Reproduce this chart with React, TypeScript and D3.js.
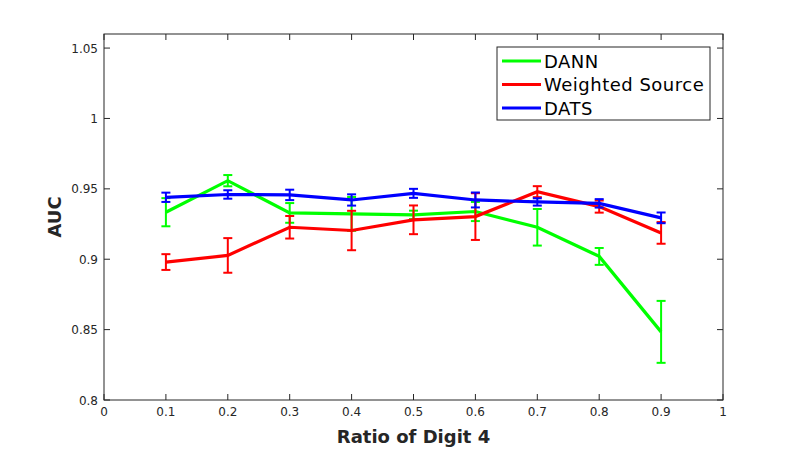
import React, { useEffect, useRef } from 'react';
import * as d3 from 'd3';

// ratios on the x axis
const ratios = [0.1, 0.2, 0.3, 0.4, 0.5, 0.6, 0.7, 0.8, 0.9];

const dannMean = [0.9334, 0.9558, 0.9329, 0.9322, 0.9315, 0.9339, 0.9227, 0.902, 0.8484];
const dannErr = [0.010, 0.004, 0.007, 0.012, 0.003, 0.0068, 0.013, 0.006, 0.022];

const weightedMean = [0.898, 0.9027, 0.9227, 0.9204, 0.928, 0.9303, 0.948, 0.9374, 0.9187];
const weightedErr = [0.0056, 0.0123, 0.008, 0.014, 0.0102, 0.0166, 0.0039, 0.0043, 0.0077];

const datsMean = [0.944, 0.946, 0.9457, 0.9421, 0.9468, 0.9421, 0.9407, 0.9397, 0.9294];
const datsErr = [0.0033, 0.003, 0.0037, 0.004, 0.0032, 0.0053, 0.0026, 0.003, 0.0038];

const seriesNames = ['DANN', 'Weighted Source', 'DATS'];
const seriesColors = ['#00ff00', '#ff0000', '#0000ff'];

const xTicks = [0, 0.1, 0.2, 0.3, 0.4, 0.5, 0.6, 0.7, 0.8, 0.9, 1];
const yTicks = [0.8, 0.85, 0.9, 0.95, 1, 1.05];

const App: React.FC = () => {
  const svgRef = useRef<SVGSVGElement>(null);
  const width = 800;
  const height = 450;

  useEffect(() => {
    if (!svgRef.current) return;
    const svg = d3.select(svgRef.current);
    svg.selectAll('*').remove();

    const left = 104, right = 723, top = 34, bottom = 400;
    const x = d3.scaleLinear().domain([0, 1]).range([left, right]);
    const y = d3.scaleLinear().domain([0.8, 1.06]).range([bottom, top]);
    const font = '"DejaVu Sans", sans-serif';
    const axisColor = '#262626';

    svg.append('rect')
      .attr('x', 0).attr('y', 0).attr('width', width).attr('height', height)
      .attr('fill', '#fff');

    // ticks (inside, on all four sides)
    const tickLen = 6;
    const g = svg.append('g').attr('stroke', axisColor).attr('stroke-width', 1);
    xTicks.forEach(t => {
      g.append('line').attr('x1', x(t)).attr('x2', x(t)).attr('y1', bottom).attr('y2', bottom - tickLen);
      g.append('line').attr('x1', x(t)).attr('x2', x(t)).attr('y1', top).attr('y2', top + tickLen);
    });
    yTicks.forEach(t => {
      g.append('line').attr('x1', left).attr('x2', left + tickLen).attr('y1', y(t)).attr('y2', y(t));
      g.append('line').attr('x1', right).attr('x2', right - tickLen).attr('y1', y(t)).attr('y2', y(t));
    });
    svg.append('rect')
      .attr('x', left).attr('y', top).attr('width', right - left).attr('height', bottom - top)
      .attr('fill', 'none').attr('stroke', axisColor).attr('stroke-width', 1);

    svg.append('g').selectAll('text').data(xTicks).enter().append('text')
      .attr('x', d => x(d)).attr('y', bottom + 16)
      .attr('text-anchor', 'middle')
      .attr('font-family', font).attr('font-size', 12).attr('fill', axisColor)
      .text(d => String(d));

    svg.append('g').selectAll('text').data(yTicks).enter().append('text')
      .attr('x', left - 6).attr('y', d => y(d) + 4.5)
      .attr('text-anchor', 'end')
      .attr('font-family', font).attr('font-size', 12).attr('fill', axisColor)
      .text(d => String(d));

    svg.append('text')
      .attr('x', (left + right) / 2).attr('y', 443)
      .attr('text-anchor', 'middle')
      .attr('font-family', font).attr('font-size', 18).attr('font-weight', 'bold')
      .attr('fill', axisColor)
      .text('Ratio of Digit 4');

    svg.append('text')
      .attr('transform', `translate(61, ${(top + bottom) / 2}) rotate(-90)`)
      .attr('text-anchor', 'middle')
      .attr('font-family', font).attr('font-size', 18).attr('font-weight', 'bold')
      .attr('fill', axisColor)
      .text('AUC');

    const series = [
      { mean: dannMean, err: dannErr },
      { mean: weightedMean, err: weightedErr },
      { mean: datsMean, err: datsErr },
    ];

    const line = d3.line<number>()
      .x((_, i) => x(ratios[i]))
      .y(d => y(d));

    const cap = 4.5;
    series.forEach((s, si) => {
      const color = seriesColors[si];
      const sg = svg.append('g');
      sg.append('path')
        .attr('d', line(s.mean) || '')
        .attr('fill', 'none')
        .attr('stroke', color)
        .attr('stroke-width', 3.2);
      s.mean.forEach((m, i) => {
        const cx = x(ratios[i]);
        const y0 = y(m - s.err[i]);
        const y1 = y(m + s.err[i]);
        sg.append('line').attr('x1', cx).attr('x2', cx).attr('y1', y0).attr('y2', y1)
          .attr('stroke', color).attr('stroke-width', 2);
        sg.append('line').attr('x1', cx - cap).attr('x2', cx + cap).attr('y1', y0).attr('y2', y0)
          .attr('stroke', color).attr('stroke-width', 2);
        sg.append('line').attr('x1', cx - cap).attr('x2', cx + cap).attr('y1', y1).attr('y2', y1)
          .attr('stroke', color).attr('stroke-width', 2);
      });
    });

    // legend
    const lx = 497, ly = 47, lw = 213, lh = 73;
    const lg = svg.append('g');
    lg.append('rect')
      .attr('x', lx).attr('y', ly).attr('width', lw).attr('height', lh)
      .attr('fill', '#fff').attr('stroke', axisColor).attr('stroke-width', 1);
    seriesNames.forEach((name, i) => {
      const ry = ly + 14 + i * 23.5;
      lg.append('line')
        .attr('x1', lx + 5).attr('x2', lx + 44).attr('y1', ry).attr('y2', ry)
        .attr('stroke', seriesColors[i]).attr('stroke-width', 3);
      lg.append('text')
        .attr('x', lx + 47).attr('y', ry + 6.5)
        .attr('font-family', font).attr('font-size', 18).attr('letter-spacing', 0.5)
        .attr('fill', '#000')
        .text(name);
    });
  }, []);

  return (
    <svg
      ref={svgRef}
      width={width}
      height={height}
      style={{ position: 'absolute', left: 0, top: 0 }}
    />
  );
};

export default App;
